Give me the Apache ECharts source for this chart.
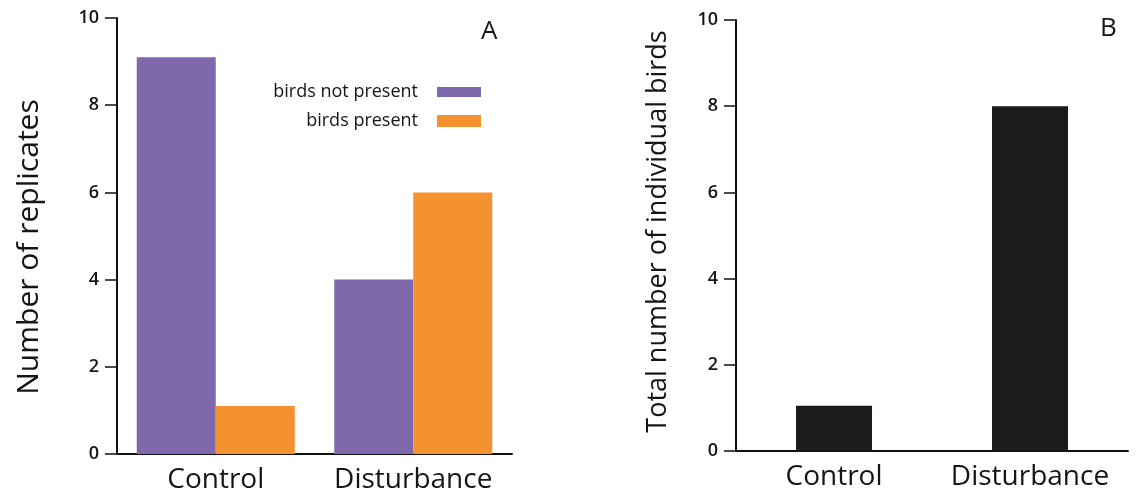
<!DOCTYPE html>
<html>
<head>
<meta charset="utf-8">
<script src="https://cdn.jsdelivr.net/npm/echarts@6/dist/echarts.min.js"></script>
<style>
  html, body { margin: 0; padding: 0; background: #ffffff; }
  #chart { width: 1137px; height: 498px; }
</style>
</head>
<body>
<div id="chart"></div>
<script>
// ---- data ----
const categories = ['Control', 'Disturbance'];
const birdsNotPresent = [9.1, 4];
const birdsPresent = [1.1, 6];
const totalBirds = [1.05, 8];
const yTicksMin = 0;
const yTicksMax = 10;
const yTicksStep = 2;
const panelLabels = ['A', 'B'];
const seriesNames = ['birds not present', 'birds present', 'Total birds'];
const yTitles = ['Number of replicates', 'Total number of individual birds'];

const FONT = '"Open Sans", sans-serif';
const TXT = '#14141c';
const PURPLE = '#8068ad';
const ORANGE = '#f3922f';
const BLACK = '#1c1a1a';

const chart = echarts.init(document.getElementById('chart'), null, { renderer: 'canvas' });

function yAxisCfg(gridIndex, name, nameGap, nameSize, namePad) {
  return {
    type: 'value', gridIndex: gridIndex,
    min: yTicksMin, max: yTicksMax, interval: yTicksStep,
    name: name, nameLocation: 'middle', nameGap: nameGap,
    nameTextStyle: { fontFamily: FONT, fontSize: nameSize, color: TXT, padding: namePad },
    axisLine: { show: true, lineStyle: { color: '#111', width: 2 } },
    axisTick: { show: true, inside: false, length: 12, lineStyle: { color: '#111', width: 1.5 } },
    axisLabel: { margin: 18, fontFamily: FONT, fontSize: 18, color: TXT, fontWeight: 600 },
    splitLine: { show: false }
  };
}
function xAxisCfg(gridIndex) {
  return {
    type: 'category', gridIndex: gridIndex, data: categories,
    axisLine: { show: true, lineStyle: { color: '#111', width: 2 } },
    axisTick: { show: false },
    axisLabel: { interval: 0, hideOverlap: false, margin: 12, fontFamily: FONT, fontSize: 28, color: TXT }
  };
}

const option = {
  animation: false,
  backgroundColor: '#ffffff',
  title: [
    { text: panelLabels[0], left: 481, top: 19, padding: 0, textStyle: { fontFamily: FONT, fontSize: 26, fontWeight: 'normal', color: TXT } },
    { text: panelLabels[1], left: 1100, top: 16, padding: 0, textStyle: { fontFamily: FONT, fontSize: 26, fontWeight: 'normal', color: TXT } }
  ],
  legend: [
    {
      data: [seriesNames[0]], right: 1137 - 481, top: 83, orient: 'vertical', align: 'right',
      itemWidth: 44, itemHeight: 10, padding: 0,
      icon: 'rect',
      textStyle: { fontFamily: FONT, fontSize: 18, color: TXT, padding: [0, 14, 0, 0] }
    },
    {
      data: [seriesNames[1]], right: 1137 - 481, top: 112, orient: 'vertical', align: 'right',
      itemWidth: 44, itemHeight: 12, padding: 0,
      icon: 'rect',
      textStyle: { fontFamily: FONT, fontSize: 18, color: TXT, padding: [0, 14, 0, 0] }
    }
  ],
  grid: [
    { left: 117, top: 18, width: 395, height: 436 },
    { left: 736, top: 20, width: 392, height: 431 }
  ],
  xAxis: [xAxisCfg(0), xAxisCfg(1)],
  yAxis: [
    yAxisCfg(0, yTitles[0], 73, 30, [0, 22, 0, 0]),
    yAxisCfg(1, yTitles[1], 64, 27, [0, 0, 0, 8])
  ],
  series: [
    {
      name: seriesNames[0], type: 'bar', xAxisIndex: 0, yAxisIndex: 0,
      data: birdsNotPresent, barWidth: 79, barGap: '0%',
      itemStyle: { color: PURPLE }
    },
    {
      name: seriesNames[1], type: 'bar', xAxisIndex: 0, yAxisIndex: 0,
      data: birdsPresent, barWidth: 79, barGap: '0%',
      itemStyle: { color: ORANGE }
    },
    {
      name: seriesNames[2], type: 'bar', xAxisIndex: 1, yAxisIndex: 1,
      data: totalBirds, barWidth: 76,
      itemStyle: { color: BLACK }
    }
  ]
};
chart.setOption(option);
</script>
</body>
</html>
